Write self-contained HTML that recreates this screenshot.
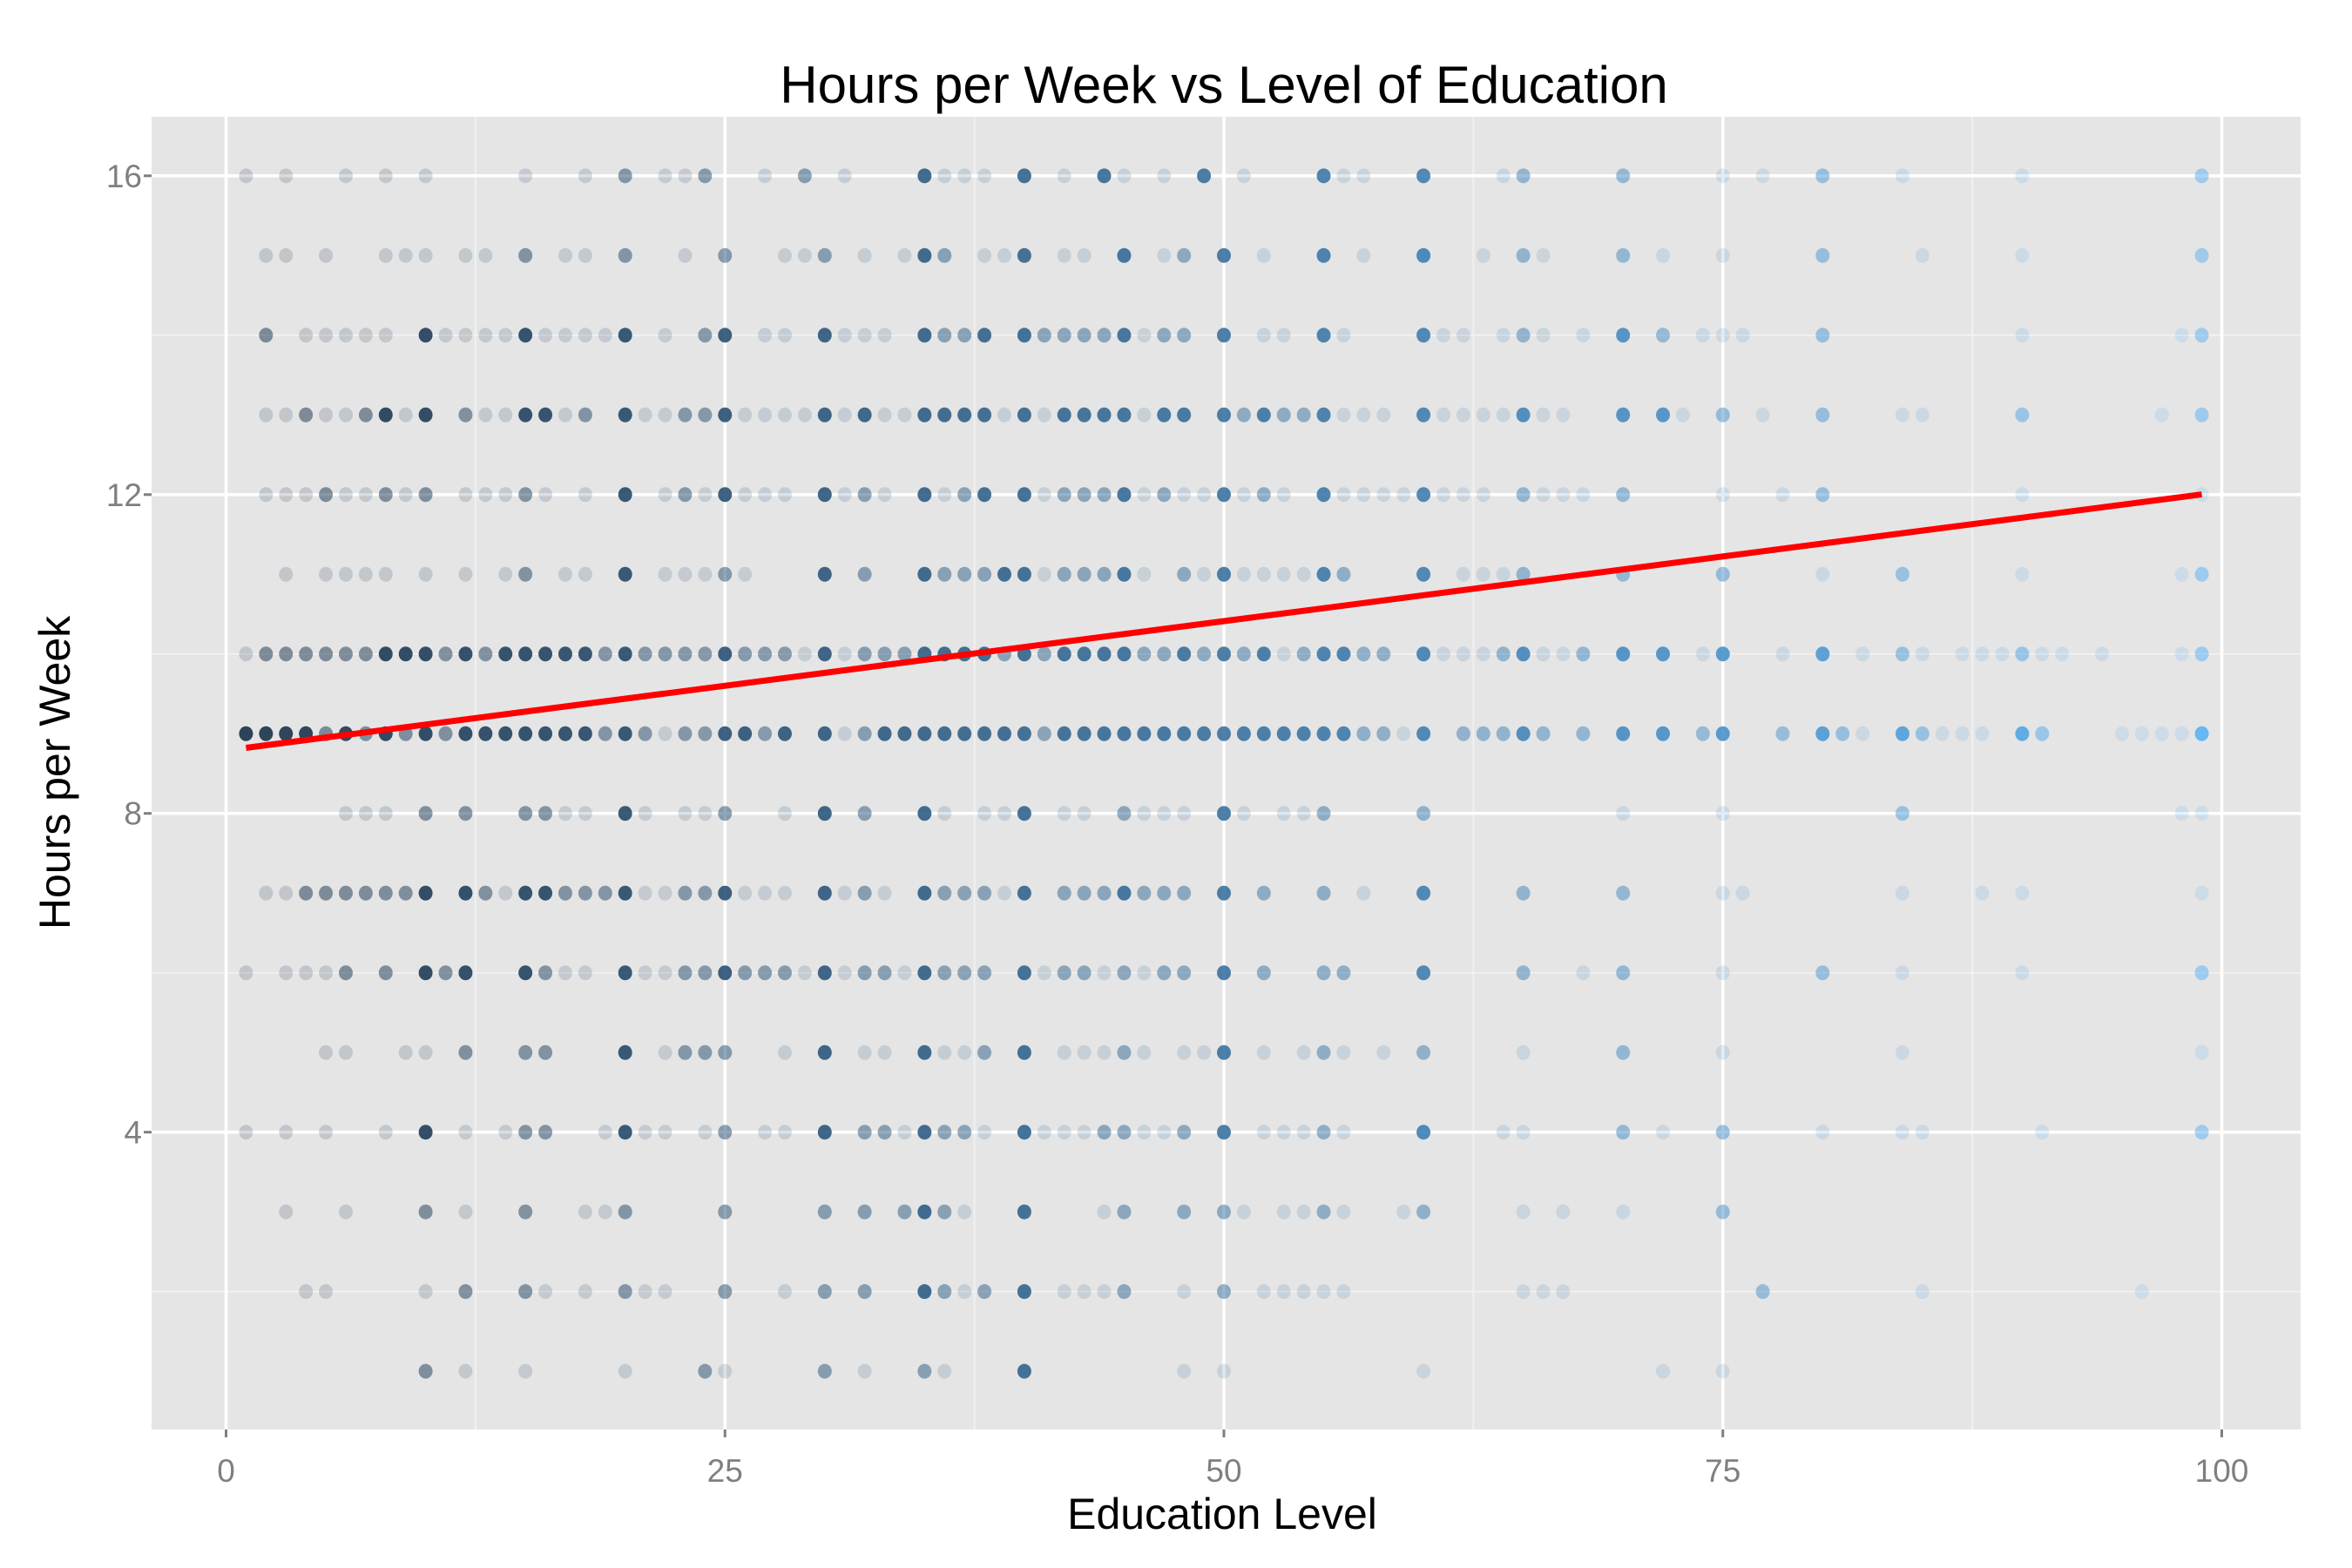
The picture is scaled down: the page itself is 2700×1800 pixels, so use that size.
<!DOCTYPE html>
<html><head><meta charset="utf-8"><style>
html,body{margin:0;padding:0;background:#fff}
svg{display:block;font-family:"Liberation Sans",Arial,sans-serif}
</style></head><body>
<svg id="chart" width="2700" height="1800" viewBox="0 0 2700 1800" xmlns="http://www.w3.org/2000/svg">
<rect x="0" y="0" width="2700" height="1800" fill="#fff"/>
<rect x="174" y="134" width="2467" height="1507" fill="#e5e5e5"/>
<g id="grid"></g>
<g id="points"></g>
<g id="fit"></g>
<g id="axes"></g>
<text x="1405" y="118" text-anchor="middle" font-size="60" fill="#000">Hours per Week vs Level of Education</text>
<text x="1403" y="1755" text-anchor="middle" font-size="50" fill="#000">Education Level</text>
<text transform="translate(80,887) rotate(-90)" text-anchor="middle" font-size="50" fill="#000">Hours per Week</text>
</svg>
<script>
const xTicks = [0, 25, 50, 75, 100];
const yTicks = [4, 8, 12, 16];
const xMinor = [12.5, 37.5, 62.5, 87.5];
const yMinor = [2, 6, 10, 14];
const fitIntercept = 8.79;
const fitSlope = 0.03245;
const fitRange = [1, 99];
// rows: hours value, then "x:level" where level 1 light, 2 medium, 3 dark
const row16 = "1 3 6 8 10 15 18 20:2 22 23 24:2 27 29:2 31 35:3 36 37 38 40:3 42 44:3 45 47 49:3 51 55:3 56 57 60:3 64 65:2 70:2 75 77 80:2 84 90 99:2";
const row15 = "2 3 5 8 9 10 12 13 15:2 17 18 20:2 23 25:2 28 29 30:2 32 34 35:3 36:2 38 39 40:3 42 43 45:3 47 48:2 50:3 52 55:3 57 60:3 63 65:2 66 70:2 72 75 80:2 85 90 99:2";
const row14 = "2:2 4 5 6 7 8 10:3 11 12 13 14 15:3 16 17 18 19 20:3 22 24:2 25:3 27 28 30:3 31 32 33 35:3 36:2 37:2 38:3 40:3 41:2 42:2 43:2 44:2 45:3 46 47:2 48:2 50:3 52 53 55:3 56 60:3 61 62 64 65:2 66 68 70:3 72:2 74 75 76 80:2 90 98 99:2";
const row13 = "2 3 4:2 5 6 7:2 8:3 9 10:3 12:2 13 14 15:3 16:3 17 18:2 20:3 21 22 23:2 24:2 25:3 26 27 28 29 30:3 31 32:3 33 34 35:3 36:3 37:3 38:3 39 40:3 41 42:3 43:3 44:3 45:3 46 47:3 48:3 50:3 51:2 52:3 53:2 54:2 55:3 56 57 58 60:3 61 62 63 64 65:3 66 67 70:3 72:3 73 75:2 77 80:2 84 85 90:2 97 99:2";
const row12 = "2 3 4 5:2 6 7 8:2 9 10:2 12 13 14 15:2 16 18 20:3 22 23:2 24 25:3 26 27 28 30:3 31 32:2 33 35:3 36 37:2 38:3 40:3 41 42:2 43:2 44:2 45:3 46 47:2 48 49 50:3 51 52:2 53 55:3 56 57 58 59 60:3 61 62 63 65:2 66 67 68 70:2 75 78 80:2 90 99";
const row11 = "3 5 6 7 8 10 12 14 15:2 17 18 20:3 22 23 24 25:2 26 30:3 32:2 35:3 36:2 37:2 38:2 39:3 40:3 41 42:2 43:2 44:2 45:3 46 48:2 49 50:3 51 52 53 54 55:3 56:2 60:3 62 63 64 65:2 70:2 75:2 80 84:2 90 98 99:2";
const row10 = "1 2:2 3:2 4:2 5:2 6:2 7:2 8:3 9:3 10:3 11:2 12:3 13:2 14:3 15:3 16:3 17:3 18:3 19:2 20:3 21:2 22:2 23:2 24:2 25:3 26:2 27:2 28:2 29 30:3 31 32:2 33:2 34:2 35:3 36:3 37:3 38:3 39:2 40:3 41:2 42:3 43:3 44:3 45:3 46:2 47:2 48:3 49:2 50:3 51:2 52:3 53 54:2 55:3 56:3 57:2 58:2 60:3 61 62 63 64:2 65:3 66 67 68:2 70:3 72:3 74 75:3 78 80:3 82 84:2 85 87 88 89 90:2 91 92 94 98 99:2";
const row9 = "1:3 2:3 3:3 4:3 5:2 6:3 7:2 8:3 9:2 10:3 11:2 12:3 13:3 14:3 15:3 16:3 17:3 18:3 19:2 20:3 21:2 22 23:2 24:2 25:3 26:3 27:2 28:3 30:3 31 32:2 33:3 34:3 35:3 36:3 37:3 38:3 39:3 40:3 41:2 42:3 43:3 44:3 45:3 46:3 47:3 48:3 49:3 50:3 51:3 52:3 53:3 54:3 55:3 56:3 57:2 58:2 59 60:3 62:2 63:2 64:2 65:3 66:2 68:2 70:3 72:3 74:2 75:3 78:2 80:3 81:2 82 84:3 85:2 86 87 88 90:3 91:2 95 96 97 98 99:3";
const row8 = "6 7 8 10:2 12:2 15:2 16:2 17 18 20:3 21 23 24 25:2 28 30:3 32:2 35:3 36 38 39 40:3 42 43 45:2 46 47 48 50:3 51 53 54 55:2 60:2 70 75 84:2 98 99";
const row7 = "2 3 4:2 5:2 6:2 7:2 8:2 9:2 10:3 12:3 13:2 14 15:3 16:3 17:2 18:2 19:2 20:3 21 22 23:2 24:2 25:3 26 27 28 30:3 31 32:2 33 35:3 36:2 37:2 38:2 39 40:3 42:2 43:2 44:2 45:3 46:2 47:2 48:2 50:3 52:2 55:2 57 60:3 65:2 70:2 75 76 84 88 90 99";
const row6 = "1 3 4 5 6:2 8:2 10:3 11:2 12:3 15:3 16:2 17 18 20:3 21 22 23:2 24:2 25:3 26:2 27:2 28:2 29 30:3 31 32:2 33:2 34 35:3 36:2 37:2 38:2 40:3 41 42:2 43:2 44 45:2 46 47:2 48:2 50:3 52:2 55:2 56:2 60:3 65:2 68 70:2 75 80:2 84 90 99:2";
const row5 = "5 6 9 10 12:2 15:2 16:2 20:3 22 23:2 24:2 25:2 28 30:3 32 33 35:3 36 37 38:2 40:3 42 43 44 45:2 46 48 49 50:3 52 54 55:2 56 58 60:2 65 70:2 75 84 99";
const row4 = "1 3 5 8 10:3 12 14 15:2 16:2 19 20:3 21 22 24 25:2 27 28 30:3 32:2 33:2 34 35:3 36:2 37:2 38 40:3 41 42 43 44:2 45:2 46 47 48:2 50:3 52 53 54 55:2 56 60:3 64 65 70:2 72 75:2 80 84 85 91 99:2";
const row3 = "3 6 10:2 12 15:2 18 19 20:2 25:2 30:2 32:2 34:2 35:3 36:2 37 40:3 44 45:2 48:2 50:2 51 53 54 55:2 56 59 60:2 65 67 70 75:2";
const row2 = "4 5 10 12:2 15:2 16 18 20:2 21 22 25:2 28 30:2 32:2 35:3 36:2 37 38:2 40:3 42 43 44 45:2 48 50:2 52 53 54 55 56 65 66 67 77:2 85 96";
const row1 = "10:2 12 15 20 24:2 25 30:2 32 35:2 36 40:3 48 50 60 72 75";
const rowHours = [16,15,14,13,12,11,10,9,8,7,6,5,4,3,2,1];
const rowData = [row16,row15,row14,row13,row12,row11,row10,row9,row8,row7,row6,row5,row4,row3,row2,row1];

const NS = "http://www.w3.org/2000/svg";
const X0 = 259.5, XS = 22.91, YREF = 1299.7, YS = 91.49;
function xScale(v){ return X0 + v * XS; }
function yScale(v){ return YREF - (v - 4) * YS; }
function mk(tag, attrs, parent){ const e = document.createElementNS(NS, tag); for (const k in attrs) e.setAttribute(k, attrs[k]); parent.appendChild(e); return e; }

const grid = document.getElementById('grid');
const PL = 174, PR = 2641, PT = 134, PB = 1641;
xMinor.forEach(v => { const l = mk('line', {x1:xScale(v), x2:xScale(v), y1:PT, y2:PB, stroke:'#f2f2f2', 'stroke-width':1.8}, grid);
  
   });
yMinor.forEach(v => { const l = mk('line', {x1:PL, x2:PR, y1:yScale(v), y2:yScale(v), stroke:'#f2f2f2', 'stroke-width':1.8}, grid);
  
   });
xTicks.forEach(v => { const l = mk('line', {x1:xScale(v), x2:xScale(v), y1:PT, y2:PB, stroke:'#fff', 'stroke-width':3.6}, grid);
  
   });
yTicks.forEach(v => { const l = mk('line', {x1:PL, x2:PR, y1:yScale(v), y2:yScale(v), stroke:'#fff', 'stroke-width':3.6}, grid);
  
   });

const lo = [19,43,67], hi = [86,177,247];
const alphaByLevel = [0, 0.17, 0.5, 0.88];
const pts = document.getElementById('points');
rowData.forEach((row, i) => {
  const h = rowHours[i];
  row.split(' ').forEach(tok => {
    const parts = tok.split(':');
    const x = parseFloat(parts[0]);
    const lvl = parts[1] ? parseInt(parts[1]) : 1;
    const t = x / 100;
    const c = lo.map((a, k) => Math.round(a + (hi[k] - a) * t));
    const p = mk('ellipse', {cx:xScale(x), cy:yScale(h), rx:8, ry:8.5, fill:`rgb(${c[0]},${c[1]},${c[2]})`, 'fill-opacity':alphaByLevel[lvl]}, pts);
    
    
  });
});

const fit = document.getElementById('fit');
const fl = mk('line', {x1:xScale(fitRange[0]), y1:yScale(fitIntercept + fitSlope * fitRange[0]), x2:xScale(fitRange[1]), y2:yScale(fitIntercept + fitSlope * fitRange[1]), stroke:'#ff0000', 'stroke-width':7}, fit);



const axes = document.getElementById('axes');
xTicks.forEach(v => {
  const t = mk('line', {x1:xScale(v), x2:xScale(v), y1:PB, y2:PB + 9, stroke:'#7f7f7f', 'stroke-width':3}, axes);
  
  
  const lb = mk('text', {x:xScale(v), y:1701, 'text-anchor':'middle', 'font-size':37, fill:'#7f7f7f'}, axes);
  lb.textContent = v;
  
  
});
yTicks.forEach(v => {
  const t = mk('line', {x1:PL - 9, x2:PL, y1:yScale(v), y2:yScale(v), stroke:'#7f7f7f', 'stroke-width':3}, axes);
  
  
  const lb = mk('text', {x:163, y:yScale(v) + 13, 'text-anchor':'end', 'font-size':37, fill:'#7f7f7f'}, axes);
  lb.textContent = v;
  
  
});
</script>
</body></html>
